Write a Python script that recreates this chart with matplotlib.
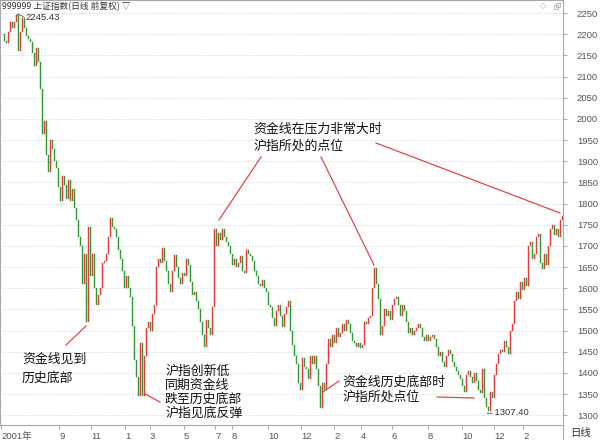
import matplotlib
matplotlib.use('Agg')
import matplotlib.pyplot as plt
from matplotlib.lines import Line2D
from matplotlib.patches import Rectangle
import numpy as np

plt.rcParams['font.family'] = ['Noto Sans CJK SC', 'DejaVu Sans']

# ---- data: closing levels (one bar ~ a few trading days), Jun 2001 - Apr 2004 ----
closes = [
    2200, 2185, 2180, 2205, 2228, 2215, 2230, 2245, 2160, 2205,
    2238, 2215, 2195, 2188, 2182, 2155, 2125, 2168, 2135, 2070,
    1965, 1995, 1915, 1875, 1950, 1930, 1900, 1885, 1840, 1805,
    1865, 1845, 1810, 1855, 1805, 1835, 1790, 1760, 1720, 1700,
    1610, 1680, 1520, 1745, 1630, 1680, 1600, 1560, 1585, 1600,
    1660, 1665, 1680, 1720, 1765, 1745, 1740, 1720, 1690, 1668,
    1640, 1600, 1630, 1600, 1580, 1510, 1430, 1390, 1345, 1470,
    1345, 1440, 1505, 1520, 1500, 1540, 1560, 1650, 1670, 1660,
    1695, 1665, 1640, 1610, 1590, 1640, 1678, 1650, 1625, 1610,
    1635, 1630, 1670, 1655, 1615, 1585, 1590, 1570, 1550, 1520,
    1490, 1460, 1525, 1505, 1490, 1555, 1740, 1700, 1730, 1715,
    1740, 1720, 1710, 1700, 1680, 1655, 1670, 1650, 1660, 1675,
    1640, 1635, 1690, 1680, 1675, 1665, 1640, 1630, 1610, 1605,
    1620, 1600, 1590, 1560, 1555, 1530, 1510, 1545, 1560, 1535,
    1508, 1540, 1555, 1570, 1500, 1465, 1440, 1420, 1375, 1360,
    1435, 1415, 1410, 1385, 1440, 1420, 1440, 1410, 1370, 1318,
    1375, 1360, 1420, 1480, 1460, 1490, 1470, 1505, 1485, 1495,
    1515, 1500, 1525, 1515, 1495, 1475, 1470, 1460, 1470, 1458,
    1465, 1520, 1515, 1530, 1535, 1600, 1648, 1610, 1575, 1490,
    1510, 1550, 1535, 1545, 1525, 1560, 1575, 1580, 1560, 1535,
    1560, 1545, 1520, 1495, 1505, 1490, 1500, 1505, 1515, 1505,
    1485, 1475, 1490, 1475, 1485, 1490, 1480, 1460, 1440, 1450,
    1425, 1415, 1440, 1455, 1445, 1425, 1415, 1405, 1395, 1385,
    1370, 1355, 1395, 1405, 1390, 1375, 1400, 1380, 1360, 1352,
    1410, 1340, 1320, 1310, 1355, 1340, 1395, 1420, 1445, 1455,
    1450, 1475, 1460, 1445, 1500, 1515, 1570, 1590, 1575, 1615,
    1595, 1625, 1605, 1700, 1710, 1670, 1680, 1720, 1728, 1660,
    1645, 1680, 1655, 1700, 1740, 1750, 1725, 1740, 1720, 1760,
    1770,
]
price_ticks = list(range(1300, 2251, 50))
month_labels = ['2001年', '9', '11', '1', '3', '5', '7', '8', '10', '12',
                '2', '4', '6', '8', '10', '12', '2']
month_pos = [-0.5, 28.5, 44.5, 61.5, 74, 91, 106.5, 115, 133, 149.5,
             166, 179.5, 195, 213, 230, 246, 260.5]

RED = '#e23a3a'
GREEN = '#2f9a32'
ANN = '#e04848'
W, H = 600, 440

fig = plt.figure(figsize=(6, 4.4), dpi=100)
fig.patch.set_facecolor('white')
ax = fig.add_axes([0, 15 / H, 563 / W, 425 / H])

x = np.arange(len(closes))
c = np.array(closes, dtype=float)
o = np.concatenate([[c[0]], c[:-1]])
up = c >= o
ax.bar(x[up], (c - o)[up], bottom=o[up], width=0.5, color=RED,
       edgecolor=RED, linewidth=0.3, zorder=3)
ax.bar(x[~up], (c - o)[~up], bottom=o[~up], width=0.5, color=GREEN,
       edgecolor=GREEN, linewidth=0.3, zorder=3)

ax.set_xlim(-1, 280.5)
ax.set_ylim(1276.8, 2281.0)

ax.yaxis.tick_right()
ax.set_yticks(price_ticks)
ax.tick_params(axis='y', direction='out', length=3, width=0.6, color='#999999',
               labelsize=6.8, labelcolor='#555555', pad=7)
for lbl in ax.get_yticklabels():
    lbl.set_fontfamily(['Liberation Sans', 'DejaVu Sans'])

ax.set_xticks(month_pos)
ax.set_xticklabels(month_labels, ha='left')
ax.tick_params(axis='x', direction='out', length=3, width=0.6, color='#999999',
               labelsize=6.8, labelcolor='#555555', pad=2)
for lbl in ax.get_xticklabels():
    lbl.set_fontfamily(['Liberation Sans', 'Noto Sans CJK SC'])

ax.set_axisbelow(True)
ax.grid(axis='y', color='#d4d4d4', linestyle=(0, (1, 1.6)), linewidth=0.7)
for s in ax.spines.values():
    s.set_color('#a8a8a8')
    s.set_linewidth(0.8)


def P(px, py):
    return (px / W, 1 - py / H)


def line(pts, color=ANN, lw=0.9):
    xs = [p[0] / W for p in pts]
    ys = [1 - p[1] / H for p in pts]
    fig.add_artist(Line2D(xs, ys, color=color, lw=lw))


# separator through the date strip
line([(563, 425), (563, 440)], color='#a8a8a8', lw=0.8)

# header
fig.text(*P(2, 7), '999999 上证指数(日线 前复权) ▽', fontsize=6.3, color='#333333',
         va='center', ha='left')
fig.text(*P(543, 6), '◇', fontsize=6, color='#b0b0b0', va='center', ha='center',
         family=['DejaVu Sans'])
fig.add_artist(Rectangle(P(554, 9), 4 / W, 4 / H, fill=False, ec='#b0b0b0', lw=0.6))
fig.add_artist(Rectangle(P(556, 7), 4 / W, 4 / H, fill=False, ec='#b0b0b0', lw=0.6))
fig.text(*P(570, 433), '日线', fontsize=7.5, color='#333333', va='center', ha='left')

# value labels
line([(16, 16), (18, 14), (24, 17)], color='#555555', lw=0.6)
fig.text(*P(25, 18), '2245.43', fontsize=6.8, color='#333333', va='center',
         ha='left', family=['Liberation Sans', 'DejaVu Sans'])
fig.text(*P(485, 412), '←1307.40', fontsize=6.8, color='#333333', va='center',
         ha='left', family=['Liberation Sans', 'DejaVu Sans'])

# annotations
fs = 9.3
tc = '#111111'
for txt, px, py in [
    ('资金线见到', 22, 359), ('历史底部', 22, 378),
    ('沪指创新低', 165, 371), ('同期资金线', 165, 385),
    ('跌至历史底部', 165, 399), ('沪指见底反弹', 165, 413),
    ('资金线在压力非常大时', 253, 129), ('沪指所处的点位', 253, 146),
    ('资金线历史底部时', 342, 382), ('沪指所处点位', 342, 397),
]:
    fig.text(*P(px, py), txt, fontsize=fs, color=tc, va='center', ha='left')

line([(66, 345), (86, 326)])
line([(145, 394), (160, 402)])
line([(261, 157), (219, 220)])
line([(321, 157), (374, 265)])
line([(376, 143), (560, 213)])
line([(323, 392), (339, 381)])
line([(437, 397), (474, 398)])

fig.savefig('out.png', dpi=100, facecolor='white')
